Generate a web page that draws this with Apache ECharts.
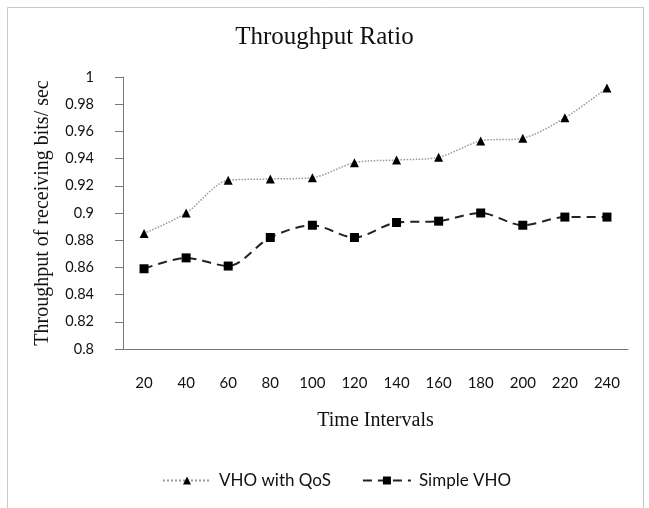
<!DOCTYPE html>
<html><head><meta charset="utf-8">
<script src="https://cdn.jsdelivr.net/npm/echarts@6/dist/echarts.min.js"></script>
<style>html,body{margin:0;padding:0;background:#fff}#c{width:649px;height:508px}</style>
</head><body><div id="c"></div>
<script>
const categories = ['20','40','60','80','100','120','140','160','180','200','220','240'];
const vhoQos = [0.885, 0.900, 0.924, 0.925, 0.926, 0.937, 0.939, 0.941, 0.953, 0.955, 0.970, 0.992];
const simpleVho = [0.859, 0.867, 0.861, 0.882, 0.891, 0.882, 0.893, 0.894, 0.900, 0.891, 0.897, 0.897];

const chart = echarts.init(document.getElementById('c'));
chart.setOption({
  animation: false,
  backgroundColor: '#fff',
  graphic: [{type:'rect', shape:{x:7.5,y:7.5,width:636,height:510}, style:{fill:'none', stroke:'#c8c8c8', lineWidth:1}, z:-1}],
  title: {text:'Throughput Ratio', left:'center', top:20, textStyle:{fontFamily:'Liberation Serif', fontWeight:'normal', fontSize:25, color:'#111'}},
  grid: {left:123, right:21, top:77, bottom:159},
  legend: {top:467, left:157, itemGap:31, itemWidth:48, itemHeight:10, textStyle:{fontFamily:'Lato', fontSize:17, color:'#111', padding:[0,0,0,3]},
    data:['VHO with QoS','Simple VHO']},
  xAxis: {type:'category', data:categories, boundaryGap:true,
    name:'Time Intervals', nameLocation:'middle', nameGap:62,
    nameTextStyle:{fontFamily:'Liberation Serif', fontSize:20, color:'#111'},
    axisLine:{lineStyle:{color:'#777'}}, axisTick:{length:5, lineStyle:{color:'#777'}},
    axisLabel:{margin:27, fontFamily:'Lato', fontSize:15, color:'#111'}},
  yAxis: {type:'value', min:0.8, max:1, interval:0.02,
    name:'Throughput of receiving bits/ sec', nameLocation:'middle', nameGap:70,
    nameTextStyle:{fontFamily:'Liberation Serif', fontSize:20, color:'#111'},
    axisLine:{show:true, lineStyle:{color:'#777'}}, axisTick:{show:true, length:8, lineStyle:{color:'#777'}},
    splitLine:{show:false},
    axisLabel:{margin:29, fontFamily:'Lato', fontSize:14.5, color:'#111'}},
  series: [
    {name:'VHO with QoS', type:'line', data:vhoQos, smooth:0.3, symbol:'triangle', symbolSize:9,
     itemStyle:{color:'#000'}, lineStyle:{color:'#999', width:1.5, type:'dotted'}},
    {name:'Simple VHO', type:'line', data:simpleVho, smooth:0.3, symbol:'rect', symbolSize:9,
     itemStyle:{color:'#000'}, lineStyle:{color:'#222', width:2, type:[9,6]}}
  ]
});
</script></body></html>
